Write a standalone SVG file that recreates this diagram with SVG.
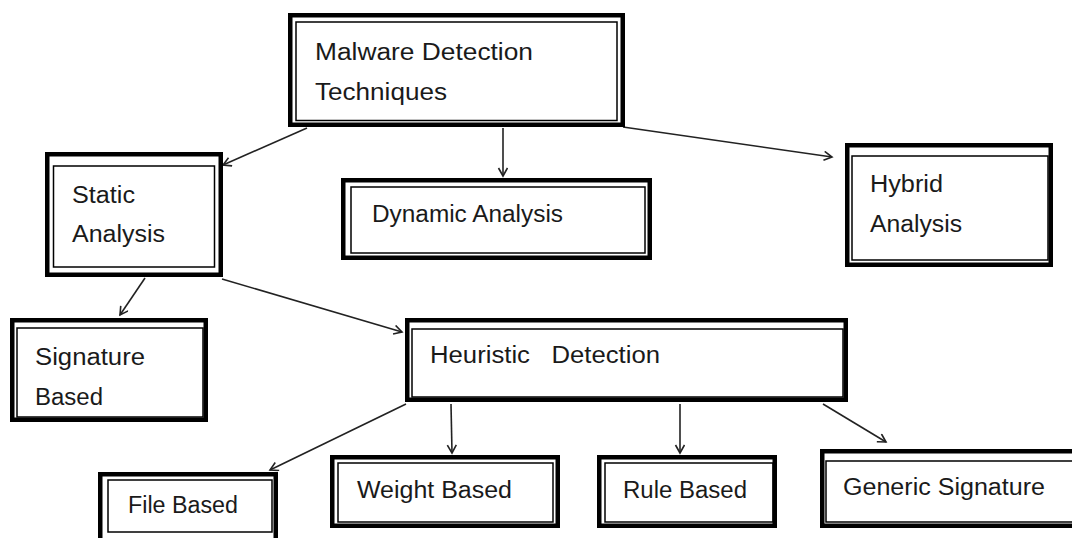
<svg xmlns="http://www.w3.org/2000/svg" width="1072" height="538" viewBox="0 0 1072 538">
<style>
.o{fill:#fff;stroke:#000;stroke-width:4.5}
.i{fill:none;stroke:#000;stroke-width:1.5}
.t{font-family:"Liberation Sans",Arial,sans-serif;font-size:23px;fill:#1a1a1a;white-space:pre}
.c{stroke:#222;stroke-width:1.6;fill:none}
</style>
<defs>
<marker id="ah" markerUnits="userSpaceOnUse" markerWidth="12" markerHeight="12" refX="9" refY="5" orient="auto">
<path d="M1,0.5 L9,5 L1,9.5" fill="none" stroke="#222" stroke-width="1.6"/>
</marker>
</defs>
<rect width="1072" height="538" fill="#fff"/>
<g id="connectors">
<line class="c" x1="307" y1="128" x2="223" y2="165" marker-end="url(#ah)"/>
<line class="c" x1="503" y1="128" x2="503" y2="176" marker-end="url(#ah)"/>
<line class="c" x1="623" y1="127" x2="832" y2="157" marker-end="url(#ah)"/>
<line class="c" x1="145" y1="278" x2="120" y2="315" marker-end="url(#ah)"/>
<line class="c" x1="222" y1="279" x2="402" y2="332" marker-end="url(#ah)"/>
<line class="c" x1="406" y1="404" x2="270" y2="470" marker-end="url(#ah)"/>
<line class="c" x1="451" y1="404" x2="452" y2="453" marker-end="url(#ah)"/>
<line class="c" x1="680" y1="404" x2="680" y2="453" marker-end="url(#ah)"/>
<line class="c" x1="823" y1="404" x2="886" y2="442" marker-end="url(#ah)"/>
</g>
<g id="malware">
<rect class="o" x="290.25" y="15.25" width="332.5" height="109.5"/>
<rect class="i" x="296" y="22" width="321" height="98.5"/>
<text class="t" x="315" y="60" textLength="218" lengthAdjust="spacingAndGlyphs">Malware Detection</text>
<text class="t" x="315" y="100" textLength="132" lengthAdjust="spacingAndGlyphs">Techniques</text>
</g>
<g id="static">
<rect class="o" x="47.25" y="154.25" width="173.5" height="120.5"/>
<rect class="i" x="53.5" y="166" width="161" height="101"/>
<text class="t" x="72" y="203" textLength="63" lengthAdjust="spacingAndGlyphs">Static</text>
<text class="t" x="72" y="242" textLength="93" lengthAdjust="spacingAndGlyphs">Analysis</text>
</g>
<g id="dynamic">
<rect class="o" x="343.25" y="180.25" width="306.5" height="77.5"/>
<rect class="i" x="351" y="187" width="294" height="66"/>
<text class="t" x="372" y="222" textLength="191" lengthAdjust="spacingAndGlyphs">Dynamic Analysis</text>
</g>
<g id="hybrid">
<rect class="o" x="847.25" y="145.25" width="203.5" height="119.5"/>
<rect class="i" x="852" y="156" width="196" height="104"/>
<text class="t" x="870" y="192" textLength="73" lengthAdjust="spacingAndGlyphs">Hybrid</text>
<text class="t" x="870" y="232" textLength="92" lengthAdjust="spacingAndGlyphs">Analysis</text>
</g>
<g id="signature">
<rect class="o" x="12.25" y="320.25" width="193.5" height="99.5"/>
<rect class="i" x="17" y="328" width="186" height="89"/>
<text class="t" x="35" y="365" textLength="110" lengthAdjust="spacingAndGlyphs">Signature</text>
<text class="t" x="35" y="405" textLength="68" lengthAdjust="spacingAndGlyphs">Based</text>
</g>
<g id="heuristic">
<rect class="o" x="407.25" y="320.25" width="438.5" height="79.5"/>
<rect class="i" x="412" y="329" width="431" height="68"/>
<text class="t" x="430" y="363" textLength="230" lengthAdjust="spacingAndGlyphs">Heuristic   Detection</text>
</g>
<g id="file">
<rect class="o" x="100.25" y="474.25" width="175.5" height="68"/>
<rect class="i" x="108" y="480" width="164" height="52"/>
<text class="t" x="128" y="513" textLength="110" lengthAdjust="spacingAndGlyphs">File Based</text>
</g>
<g id="weight">
<rect class="o" x="332.25" y="457.25" width="225.5" height="68.5"/>
<rect class="i" x="338" y="463" width="215" height="59"/>
<text class="t" x="357" y="498" textLength="155" lengthAdjust="spacingAndGlyphs">Weight Based</text>
</g>
<g id="rule">
<rect class="o" x="599.25" y="457.25" width="175.5" height="68.5"/>
<rect class="i" x="605" y="463" width="168" height="59"/>
<text class="t" x="623" y="498" textLength="124" lengthAdjust="spacingAndGlyphs">Rule Based</text>
</g>
<g id="generic">
<rect class="o" x="822.25" y="451.25" width="260" height="74.5"/>
<rect class="i" x="826" y="461" width="250" height="61"/>
<text class="t" x="843" y="495" textLength="202" lengthAdjust="spacingAndGlyphs">Generic Signature</text>
</g>
</svg>
